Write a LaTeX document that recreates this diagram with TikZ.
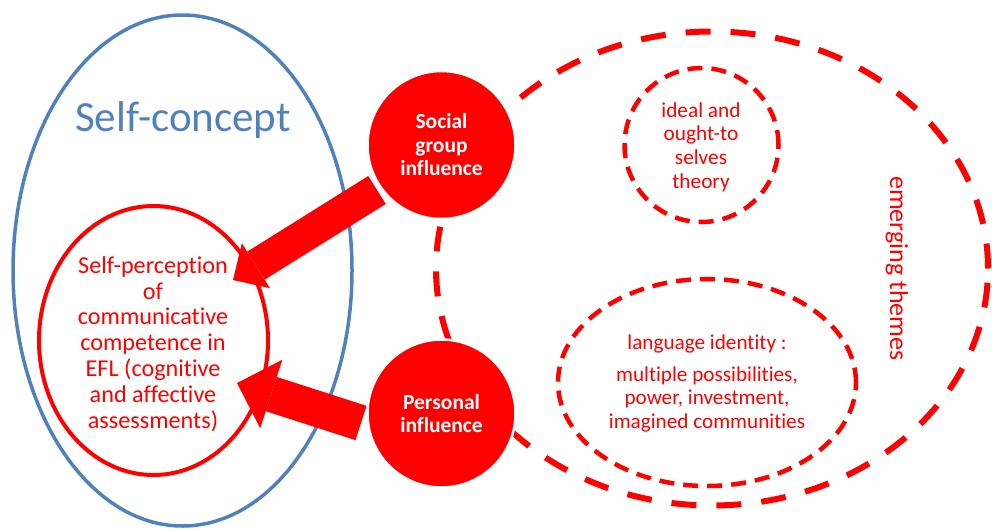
\documentclass[tikz,border=0pt]{standalone}
\usepackage{fontspec}
\setmainfont{Carlito}[Ligatures=NoCommon]
\usetikzlibrary{arrows.meta,shapes.geometric}
\definecolor{sblue}{HTML}{4F81BD}
\definecolor{sred}{HTML}{FF0000}
\begin{document}
\begin{tikzpicture}[x=1pt,y=-1pt,
  ring/.style={ellipse,inner sep=0pt,outer sep=0pt},
  bigdash/.style={draw=sred,line width=6pt,dash pattern=on 25pt off 20pt},
  smalldash/.style={draw=sred,line width=4.5pt,dash pattern=on 15pt off 9pt},
  influence/.style={circle,fill=sred,draw=white,line width=2.5pt,minimum size=148pt,inner sep=0pt,
    text=white,align=center,font={\bfseries\fontsize{21.5}{23.5}\selectfont}},
  redtext/.style={text=sred,align=center,inner sep=0pt}]
\useasboundingbox (0,0) rectangle (992,528);
% Self-concept
\node[ring,draw=sblue,line width=3.5pt,minimum width=339pt,minimum height=511pt] (selfconcept) at (182.5,270.5) {};
\node[text=sblue,anchor=base,inner sep=0pt,font={\fontsize{43}{50}\selectfont}] (sclabel) at (183,131) {Self-concept};
\node[ring,draw=sred,line width=4pt,minimum width=229pt,minimum height=269pt] (selfperc) at (153.5,340.5) {};
\node[redtext,font={\fontsize{24.2}{25.8}\selectfont}] (sptext) at (153,344)
  {Self-perception\\of\\communicative\\competence in\\EFL (cognitive\\and affective\\assessments)};
% emerging themes
\node[ring,bigdash,minimum width=552pt,minimum height=474pt] (emerging) at (712,268.5) {};
\node[redtext,rotate=-90,font={\fontsize{26}{32}\selectfont}] (emlabel) at (897,268.5) {emerging themes};
\node[ring,smalldash,minimum width=154pt,minimum height=154pt] (ideal) at (701.5,145) {};
\node[redtext,font={\fontsize{21.3}{23.7}\selectfont}] (idealtext) at (701,147)
  {ideal and\\ought-to\\selves\\theory};
\node[ring,smalldash,minimum width=298pt,minimum height=207pt] (langid) at (707,382.5) {};
\node[redtext,font={\fontsize{21.2}{23.5}\selectfont}] (langtext) at (707,383.5)
  {language identity :\\[8pt]multiple possibilities,\\power, investment,\\imagined communities};
% arrows
\coordinate (sgtail) at (377,190);
\coordinate (sgtip) at (233,280);
\coordinate (pitail) at (361,423);
\coordinate (pitip) at (237,383);
\draw[sred,line width=33pt,-{Triangle[length=27pt,width=53pt,line width=0pt]}] (sgtail) -- (sgtip);
\draw[sred,line width=36pt,-{Triangle[length=36pt,width=72pt,line width=0pt]}] (pitail) -- (pitip);
% influence circles
\node[influence] (social) at (441.5,145) {Social\\group\\influence};
\node[influence] (personal) at (441.5,413.5) {Personal\\influence};
\end{tikzpicture}
\end{document}
